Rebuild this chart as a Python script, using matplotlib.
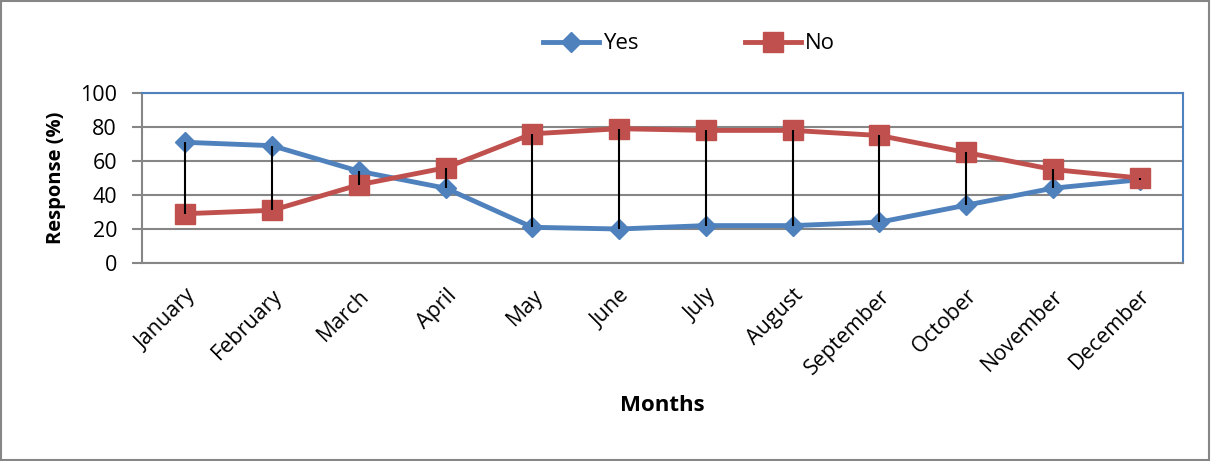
import matplotlib
matplotlib.use("Agg")
import matplotlib.pyplot as plt
from matplotlib.patches import Rectangle

months = ["January", "February", "March", "April", "May", "June", "July",
          "August", "September", "October", "November", "December"]
yes = [71, 69, 54, 44, 21, 20, 22, 22, 24, 34, 44, 49]
no = [29, 31, 46, 56, 76, 79, 78, 78, 75, 65, 55, 50]
yticks = [0, 20, 40, 60, 80, 100]

plt.rcParams['font.family'] = ['Open Sans', 'DejaVu Sans']

fig = plt.figure(figsize=(12.11, 4.61), dpi=100)
ax = fig.add_axes([142/1211, 1-263/461, (1183-142)/1211, (263-93)/461])

x = list(range(len(months)))
blue = '#4F81BD'
red = '#C0504D'

ax.plot(x, yes, color=blue, lw=3.5, marker='D', ms=10, label='Yes', zorder=3)
ax.plot(x, no, color=red, lw=3.5, marker='s', ms=14.5, label='No', zorder=3)
ax.vlines(x, yes, no, color='black', lw=1.5, zorder=4)

ax.set_xlim(-0.5, len(months) - 0.5)
ax.set_ylim(0, 100)
ax.set_yticks(yticks)
ax.set_yticklabels([str(v) for v in yticks], fontsize=15.5)
ax.set_xticks(x)
ax.set_xticklabels(months, rotation=45, ha='right', rotation_mode='anchor', fontsize=15.5)
ax.tick_params(axis='x', length=0, pad=16)
ax.tick_params(axis='y', length=7, color='#868686', width=1.5, pad=11)
ax.yaxis.grid(True, color='#868686', lw=1.5)
ax.set_axisbelow(True)
for s in ['top', 'right']:
    ax.spines[s].set_color(blue)
    ax.spines[s].set_linewidth(1.5)
for s in ['left', 'bottom']:
    ax.spines[s].set_color('#868686')
    ax.spines[s].set_linewidth(1.5)

ax.set_ylabel('Response (%)', fontsize=14.5, fontweight='bold', labelpad=10)
ax.set_xlabel('Months', fontsize=16, fontweight='bold', labelpad=12)

fig.legend(loc='center', bbox_to_anchor=(0.569, 0.905), ncol=2, frameon=False,
           fontsize=16, handlelength=2.5, columnspacing=4.8, handletextpad=0.2)

fig.patches.append(Rectangle((0.001, 0.002), 0.997, 0.995, transform=fig.transFigure,
                             fill=False, edgecolor='#868686', lw=1.5))

fig.savefig('out.png', dpi=100)
